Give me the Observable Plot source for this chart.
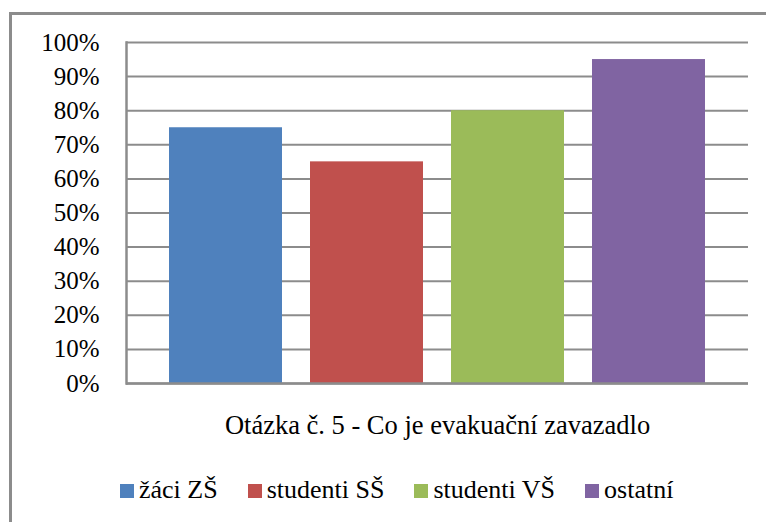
<!DOCTYPE html>
<html>
<head>
<meta charset="utf-8">
<script src="https://cdn.jsdelivr.net/npm/d3@7"></script>
<script src="https://cdn.jsdelivr.net/npm/@observablehq/plot@0.6"></script>
<style>
  html, body { margin: 0; padding: 0; background: #fff; overflow: hidden; width: 766px; height: 522px; }
  #wrap { position: relative; width: 766px; height: 522px; font-family: "Liberation Serif", "Times New Roman", serif; }
  #border { position: absolute; left: 9px; top: 12px; width: 900px; height: 700px; border: 3px solid #8c8c8c; box-sizing: border-box; }
  #chart { position: absolute; left: 0; top: 0; }
  #legend { position: absolute; left: 120px; top: 475px; font-family: "Liberation Serif", serif; font-size: 26px; line-height: 30px; white-space: nowrap; color: #000; }
  .item { display: inline-block; margin-right: 30px; }
  .sw { display: inline-block; width: 14px; height: 14px; margin-right: 5px; }
</style>
</head>
<body>
<div id="wrap">
  <div id="border"></div>
  <div id="chart"></div>
  <div id="legend"></div>
</div>
<script>
const series = ["žáci ZŠ", "studenti SŠ", "studenti VŠ", "ostatní"];
const values = [0.75, 0.65, 0.80, 0.95];
const colors = ["#4F81BD", "#C0504D", "#9BBB59", "#8064A2"];
const yTicks = [0, 0.1, 0.2, 0.3, 0.4, 0.5, 0.6, 0.7, 0.8, 0.9, 1.0];
const categoryLabel = ["Otázka č. 5 - Co je evakuační zavazadlo"];

const data = series.map((s, i) => ({series: s, value: values[i]}));
const serif = '"Liberation Serif", "Times New Roman", serif';

const chart = Plot.plot({
  width: 766,
  height: 450,
  marginLeft: 126,
  marginRight: 18,
  marginTop: 42,
  marginBottom: 67,
  style: {fontFamily: serif, background: "transparent", color: "#000", overflow: "visible"},
  x: {type: "band", domain: series, paddingInner: 0.2, paddingOuter: 0.3055, axis: null},
  y: {domain: [0, 1], axis: null},
  color: {domain: series, range: colors},
  marks: [
    Plot.gridY(yTicks, {stroke: "#8c8c8c", strokeOpacity: 1, strokeWidth: 2}),
    Plot.barY(data, {x: "series", y: "value", fill: "series"}),
    Plot.ruleY([0], {stroke: "#8c8c8c", strokeWidth: 2.5}),
    Plot.frame({anchor: "left", stroke: "#8c8c8c", strokeWidth: 2.5}),
    Plot.axisY(yTicks, {label: null, tickSize: 0, tickPadding: 27, tickFormat: d3.format(".0%"), fontSize: 25, fontFamily: serif, fill: "#000"}),
    Plot.text(categoryLabel, {frameAnchor: "bottom", dy: 50, fontSize: 26.5, fontFamily: serif, fill: "#000"})
  ]
});
document.getElementById("chart").appendChild(chart);

const legend = document.getElementById("legend");
series.forEach((s, i) => {
  const item = document.createElement("span");
  item.className = "item";
  const sw = document.createElement("span");
  sw.className = "sw";
  sw.style.background = colors[i];
  item.appendChild(sw);
  item.appendChild(document.createTextNode(s));
  legend.appendChild(item);
});
</script>
</body>
</html>
